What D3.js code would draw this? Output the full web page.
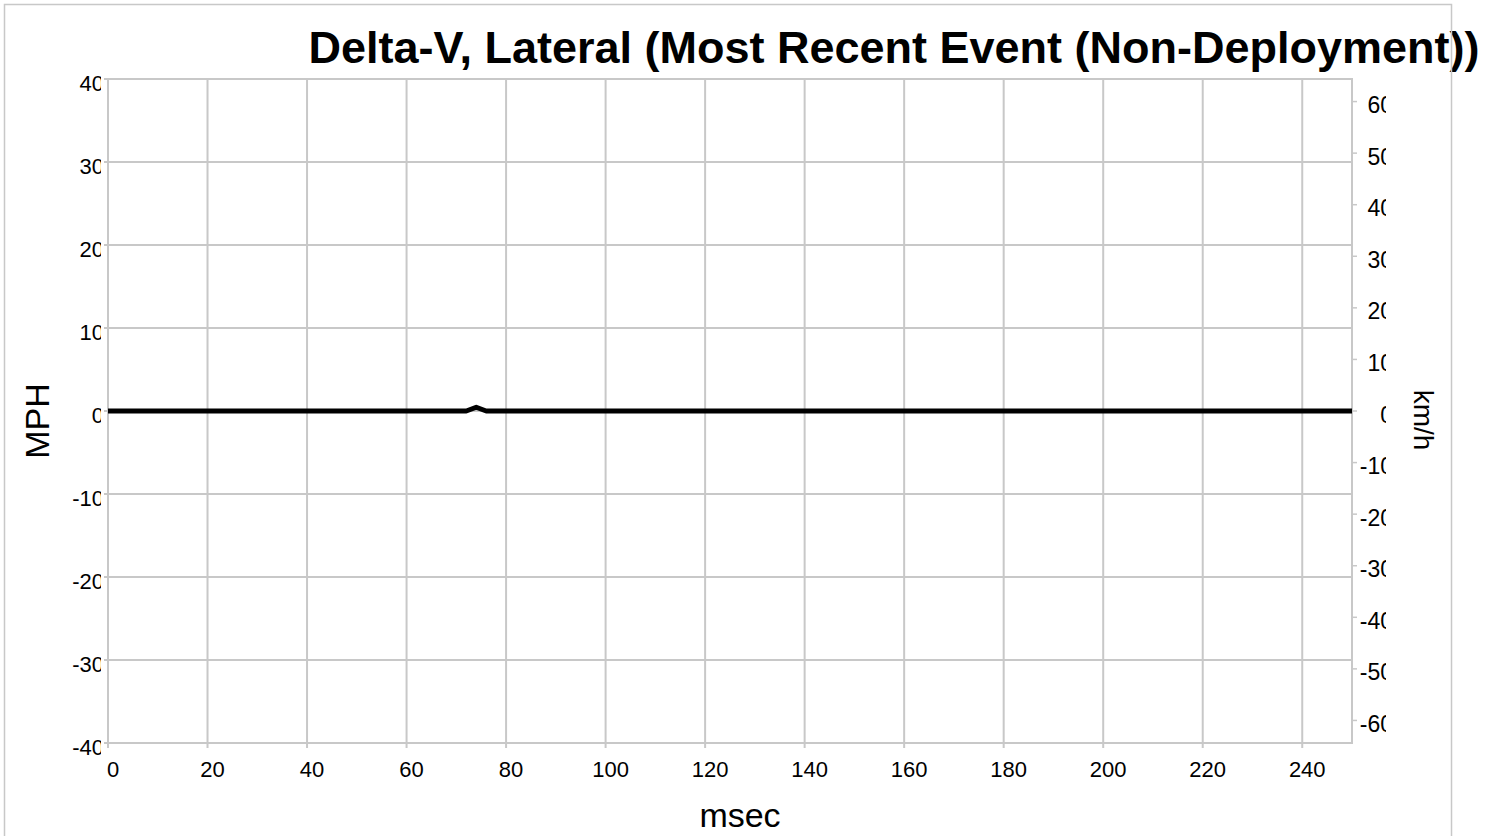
<!DOCTYPE html>
<html>
<head>
<meta charset="utf-8">
<script src="https://cdn.jsdelivr.net/npm/d3@7"></script>
<style>
  body { margin: 0; background: #fff; }
  text { font-family: "Liberation Sans", Arial, sans-serif; fill: #000; }
</style>
</head>
<body>
<div id="chart"></div>
<script>
const WIDTH = 1489;
const HEIGHT = 836;

// data
const msec = [0, 72, 74, 76, 250];
const mph = [0, 0, 0.45, 0, 0];
const xTicks = [0, 20, 40, 60, 80, 100, 120, 140, 160, 180, 200, 220, 240];
const mphTicks = [-40, -30, -20, -10, 0, 10, 20, 30, 40];
const kmhTicks = [-60, -50, -40, -30, -20, -10, 0, 10, 20, 30, 40, 50, 60];
const TITLE = "Delta-V, Lateral (Most Recent Event (Non-Deployment))";

const margin = { top: 79, right: 137, bottom: 93, left: 108 };
const width = WIDTH - margin.left - margin.right;
const height = HEIGHT - margin.top - margin.bottom;
const GRID = "#c8c8c8";

const svg = d3.select("#chart").append("svg")
    .attr("width", WIDTH)
    .attr("height", HEIGHT);

const x = d3.scaleLinear().domain([0, 250]).range([0, width]);
const y = d3.scaleLinear().domain([-40, 40]).range([height, 0]);
const MPH_TO_KMH = 1.609344;
const y2 = d3.scaleLinear().domain([-40 * MPH_TO_KMH, 40 * MPH_TO_KMH]).range([height, 0]);

const g = svg.append("g").attr("transform", `translate(${margin.left},${margin.top})`);

// clip regions for the cut-off tick labels
const defs = svg.append("defs");
defs.append("clipPath").attr("id", "clipLeft")
    .append("rect").attr("x", -120).attr("y", -20).attr("width", 120 - 7).attr("height", height + 40);
defs.append("clipPath").attr("id", "clipRight")
    .append("rect").attr("x", width).attr("y", -20).attr("width", 34).attr("height", height + 40);

// vertical grid + bottom ticks
g.append("g")
    .selectAll("line")
    .data(xTicks)
    .join("line")
    .attr("x1", d => x(d)).attr("x2", d => x(d))
    .attr("y1", 0).attr("y2", height + 5)
    .attr("stroke", GRID).attr("stroke-width", 2);

// horizontal grid + left ticks
g.append("g")
    .selectAll("line")
    .data(mphTicks)
    .join("line")
    .attr("x1", -4).attr("x2", width)
    .attr("y1", d => y(d)).attr("y2", d => y(d))
    .attr("stroke", GRID).attr("stroke-width", 2);

// plot frame
g.append("rect")
    .attr("width", width).attr("height", height)
    .attr("fill", "none").attr("stroke", GRID).attr("stroke-width", 2);

// right axis ticks
g.append("g")
    .selectAll("line")
    .data(kmhTicks)
    .join("line")
    .attr("x1", width).attr("x2", width + 5)
    .attr("y1", d => y2(d)).attr("y2", d => y2(d))
    .attr("stroke", GRID).attr("stroke-width", 1.5);

// x tick labels
g.append("g")
    .selectAll("text")
    .data(xTicks)
    .join("text")
    .attr("x", d => x(d) + 5)
    .attr("y", height + 34)
    .attr("text-anchor", "middle")
    .style("font-size", "22px")
    .text(d => d);

// left tick labels (cut off like the original)
g.append("g")
    .attr("clip-path", "url(#clipLeft)")
    .selectAll("text")
    .data(mphTicks)
    .join("text")
    .attr("x", -4)
    .attr("y", d => y(d) + 12)
    .attr("text-anchor", "end")
    .style("font-size", "22px")
    .text(d => d);

// right tick labels (cut off)
g.append("g")
    .attr("clip-path", "url(#clipRight)")
    .selectAll("text")
    .data(kmhTicks)
    .join("text")
    .attr("x", width + 41)
    .attr("y", d => y2(d) + 11.5)
    .attr("text-anchor", "end")
    .style("font-size", "23px")
    .text(d => d);

// data line
const line = d3.line()
    .x((d, i) => x(msec[i]))
    .y(d => y(d));

g.append("path")
    .datum(mph)
    .attr("d", line)
    .attr("fill", "none")
    .attr("stroke", "#000")
    .attr("stroke-width", 5)
    .attr("stroke-linejoin", "round");

// titles
svg.append("text")
    .attr("x", 894).attr("y", 63)
    .attr("text-anchor", "middle")
    .style("font-size", "45px").style("font-weight", "bold")
    .text(TITLE);

// outer frame (drawn over the title, as in the original)
svg.append("rect")
    .attr("x", 4.5).attr("y", 4.5)
    .attr("width", 1447).attr("height", 900)
    .attr("fill", "none").attr("stroke", GRID).attr("stroke-width", 1.5);

svg.append("text")
    .attr("transform", "translate(49,421) rotate(-90)")
    .attr("text-anchor", "middle")
    .style("font-size", "34px")
    .text("MPH");

svg.append("text")
    .attr("transform", "translate(1414,420) rotate(90)")
    .attr("text-anchor", "middle")
    .style("font-size", "28px")
    .text("km/h");

svg.append("text")
    .attr("x", 740).attr("y", 827)
    .attr("text-anchor", "middle")
    .style("font-size", "34px")
    .text("msec");
</script>
</body>
</html>
